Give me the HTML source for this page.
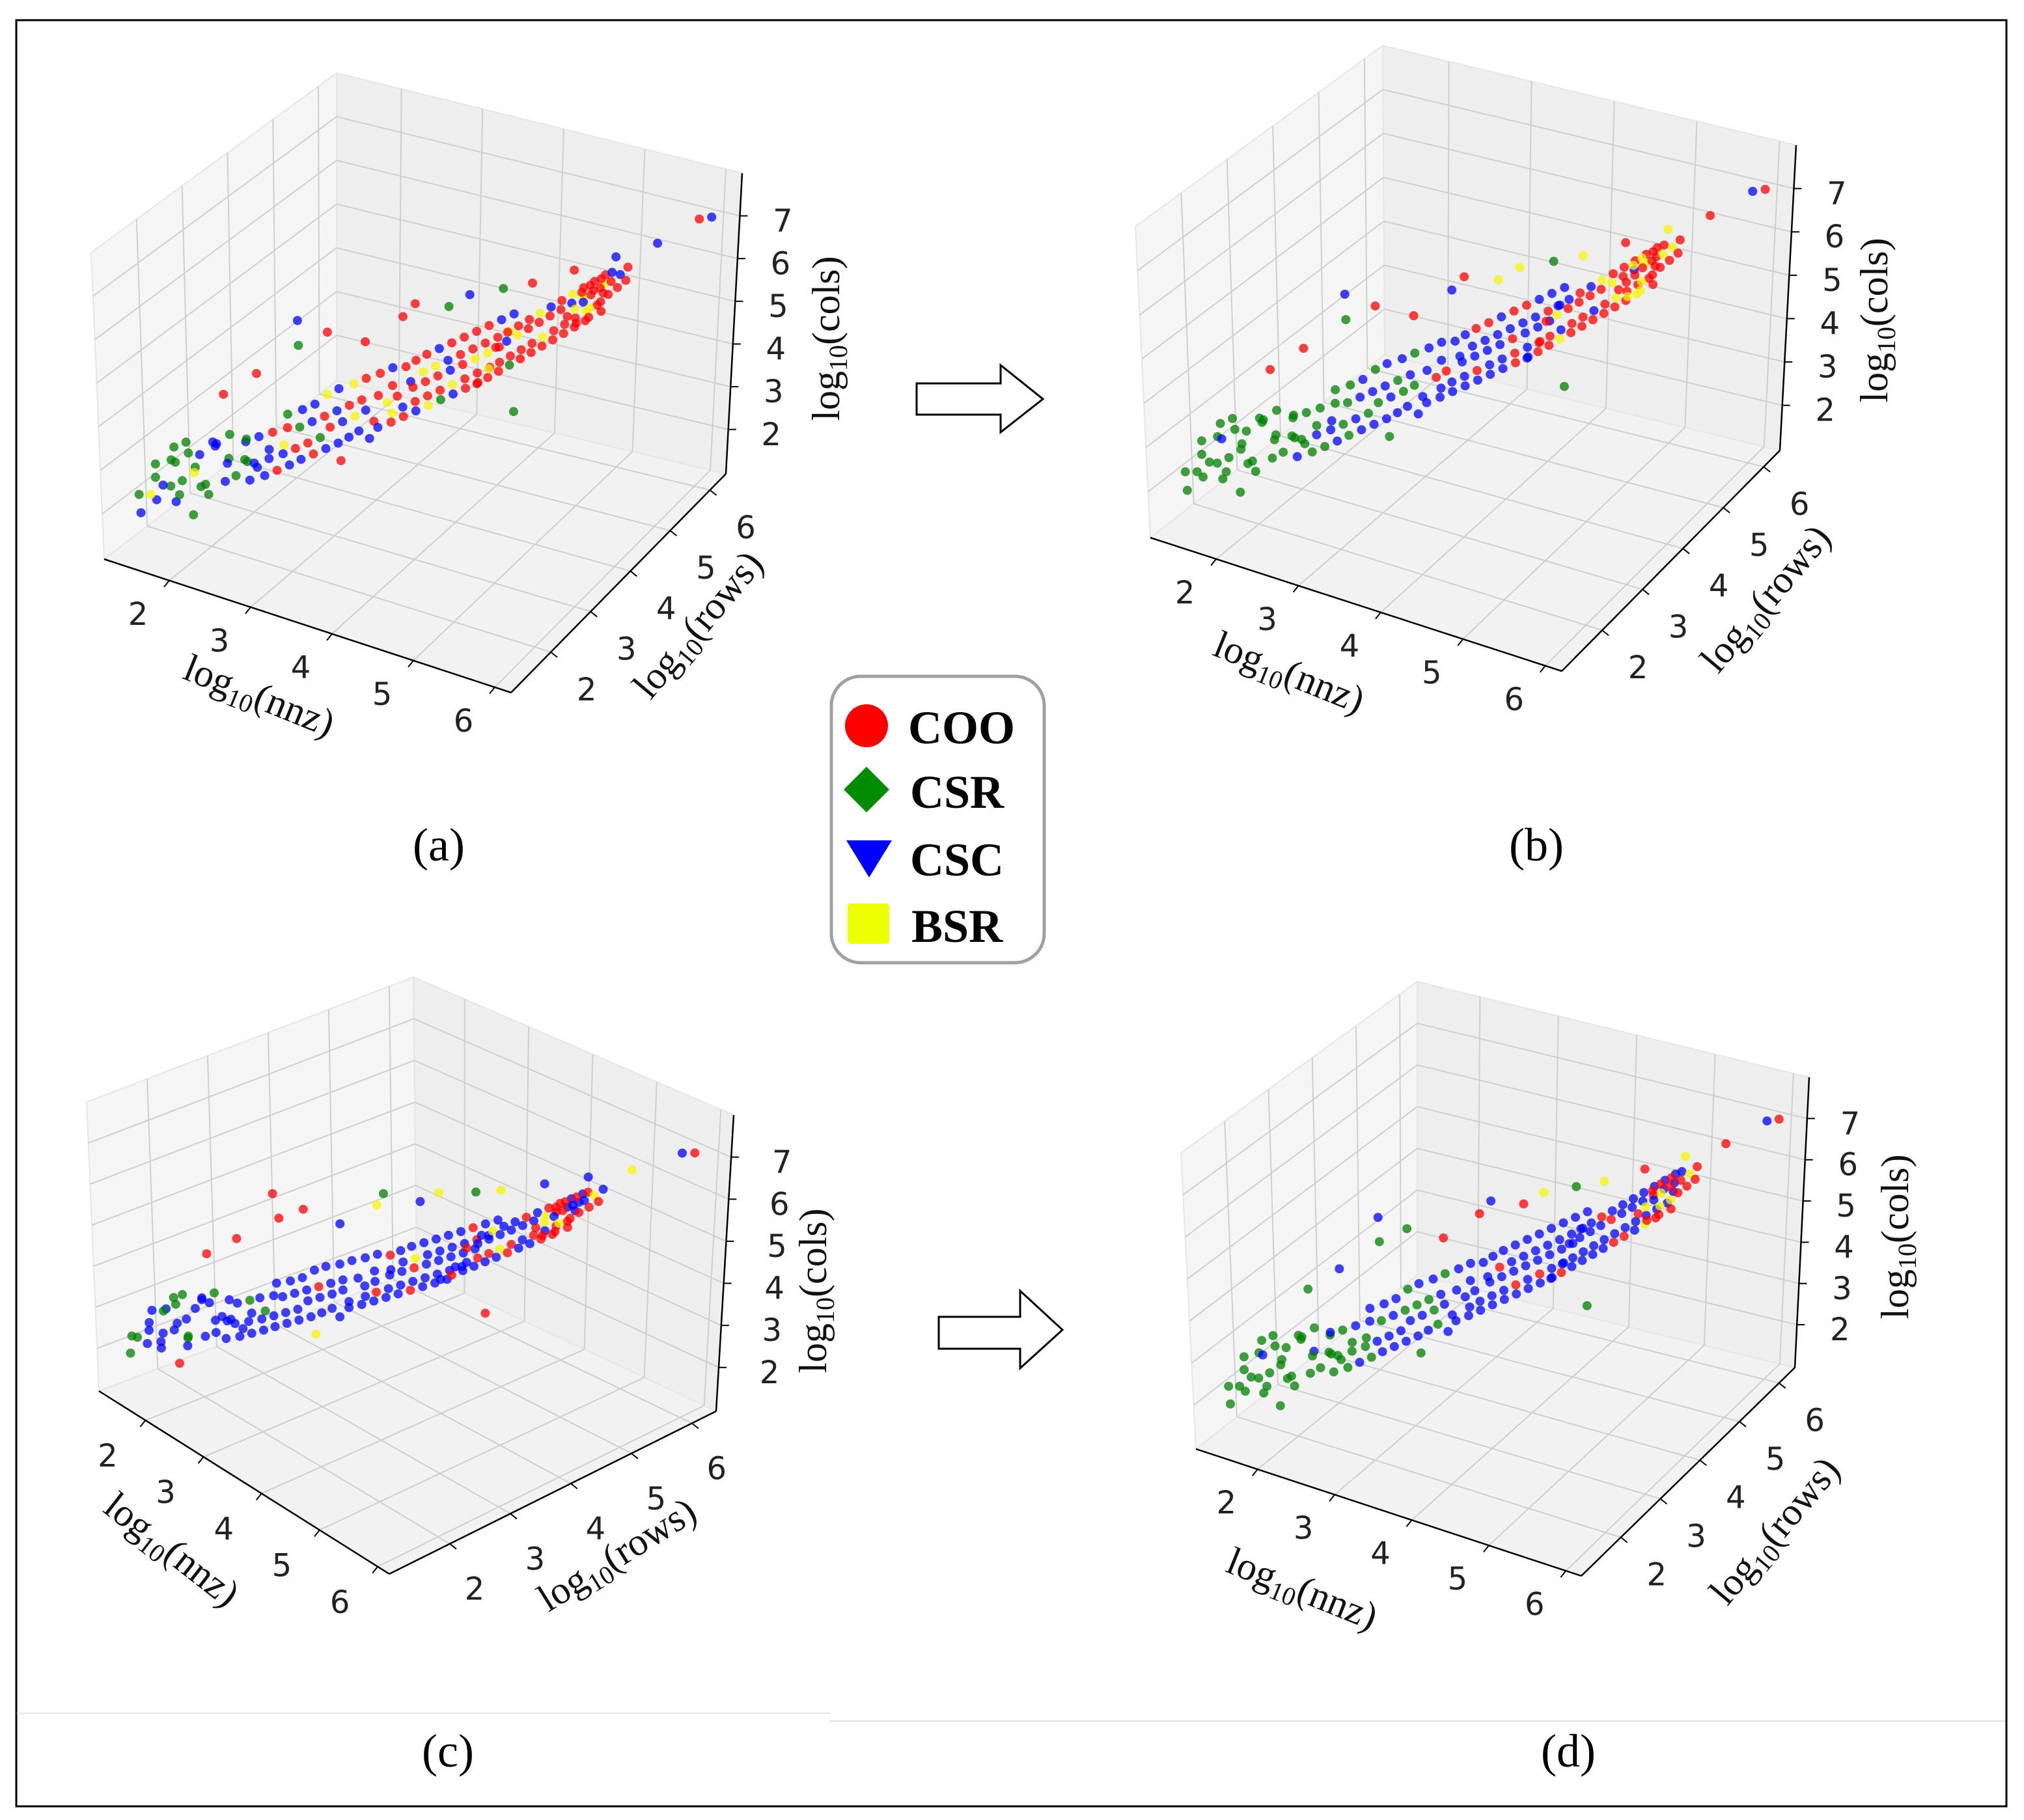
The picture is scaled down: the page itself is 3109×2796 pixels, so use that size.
<!DOCTYPE html>
<html><head><meta charset="utf-8"><style>
html,body{margin:0;padding:0;background:#fff;}
svg{display:block;}
</style></head><body>
<svg id="fig" width="3109" height="2796" viewBox="0 0 3109 2796" xmlns="http://www.w3.org/2000/svg">
<rect x="0" y="0" width="3109" height="2796" fill="#fff"/>
<rect x="25" y="31" width="3057" height="2744" fill="none" stroke="#000" stroke-width="3"/>
<line x1="26" y1="2632" x2="1275" y2="2632" stroke="#e4e4e4" stroke-width="2"/>
<line x1="1275" y1="2644" x2="3080" y2="2644" stroke="#e4e4e4" stroke-width="2"/>
<g id="panels"></g>
<g>
<polygon points="1408,589 1537,589 1537,561 1602,613 1537,664 1537,637 1408,637" fill="#fff" stroke="#000" stroke-width="3"/>
</g>
<g>
<polygon points="1442,2023 1567,2023 1567,1983 1632,2043 1567,2102 1567,2072 1442,2072" fill="#fff" stroke="#000" stroke-width="3"/>
</g>
<g>
<rect x="1277" y="1039" width="327" height="440" rx="45" ry="45" fill="#fff" stroke="#a0a0a0" stroke-width="5"/>
<circle cx="1331" cy="1115" r="33" fill="#ff0000"/>
<polygon points="1331,1178 1366,1213 1331,1248 1296,1213" fill="#008c00"/>
<polygon points="1300,1291 1370,1291 1335,1348" fill="#0000ff"/>
<rect x="1302" y="1388" width="64" height="62" rx="5" fill="#eeff00"/>
<g font-family="'Liberation Serif', serif" font-weight="bold" font-size="72" fill="#000">
<text x="1395" y="1142">COO</text>
<text x="1398" y="1241">CSR</text>
<text x="1398" y="1345">CSC</text>
<text x="1400" y="1447">BSR</text>
</g>
</g>
<g font-family="'Liberation Serif', serif" font-size="72" fill="#000" text-anchor="middle">
<text x="674" y="1322">(a)</text>
<text x="2360" y="1322">(b)</text>
<text x="688" y="2714">(c)</text>
<text x="2409" y="2714">(d)</text>
</g>
</svg>
<script>
// ---- data (log10 values of matrices) ----
const nnzVals=[1.5,1.55,1.57,1.6,1.62,1.66,1.69,1.7,1.73,1.77,1.8,1.82,1.85,1.88,1.9,1.93,1.96,2.0,2.02,2.05,2.08,2.1,2.13,2.16,2.2,2.22,2.25,2.29,2.31,2.35,2.38,2.4,2.43,2.46,2.48,2.52,
2.55,2.57,2.6,2.63,2.65,2.68,2.7,2.73,2.76,2.78,2.8,2.83,2.85,2.88,2.9,2.93,2.95,2.98,3.0,3.02,3.05,3.07,3.1,3.12,3.15,3.17,3.2,3.22,3.25,3.27,3.3,3.32,3.35,3.37,3.4,3.42,3.45,3.47,3.5,3.52,
3.55,3.57,3.6,3.61,3.63,3.65,3.68,3.7,3.72,3.74,3.76,3.78,3.8,3.82,3.84,3.86,3.88,3.9,3.92,3.94,3.96,3.98,4.0,4.02,4.04,4.06,4.08,4.1,4.12,4.14,4.16,4.18,4.2,4.22,4.24,4.26,4.28,4.3,4.32,4.34,4.36,4.38,4.4,4.42,4.44,4.46,4.48,4.5,4.51,4.53,
4.55,4.57,4.59,4.61,4.63,4.65,4.67,4.69,4.71,4.73,4.75,4.77,4.79,4.81,4.83,4.85,4.87,4.89,4.91,4.93,4.95,4.97,4.99,5.01,5.03,5.05,5.07,5.09,5.11,5.13,5.15,5.17,5.19,5.21,5.23,5.25,5.27,5.29,5.31,5.33,5.35,5.37,5.39,5.41,
5.18,5.2,5.22,5.25,5.27,5.29,5.31,5.33,5.35,5.37,5.39,5.41,5.43,5.45,5.47,5.49,5.51,5.53,5.55,5.58,
2.3,2.6,2.9,3.2,3.0,3.5,3.8,4.0,4.2,4.4,4.6,4.9,5.2,5.5,5.8,6.0,6.1,3.3,4.7,2.0];
const rowVals=[1.3,1.6,1.2,1.5,1.9,1.4,1.7,1.2,1.6,1.9,1.3,1.7,1.5,2.0,1.4,1.8,1.6,1.3,2.1,1.7,1.5,1.9,2.2,1.6,1.8,2.0,1.5,2.3,1.9,1.7,2.1,2.4,1.8,2.0,2.2,1.9,
2.0,2.4,1.8,2.2,2.6,2.1,2.5,1.9,2.3,2.7,2.2,2.0,2.5,2.8,2.3,2.1,2.6,2.9,2.4,2.2,2.7,3.0,2.5,2.3,2.8,2.6,3.1,2.4,2.9,2.7,3.2,2.5,3.0,2.8,2.6,3.3,2.9,2.7,3.1,3.4,
2.9,3.3,2.7,3.1,3.5,2.8,3.2,3.6,3.0,3.4,2.9,3.7,3.1,3.3,3.5,3.0,3.8,3.2,3.4,3.6,3.1,3.9,3.3,3.5,3.7,3.2,4.0,3.4,3.6,3.8,3.3,4.1,3.5,3.7,3.9,3.4,4.2,3.6,3.8,4.0,3.5,4.3,3.7,3.9,4.1,3.6,4.4,3.8,4.0,4.2,
3.4,3.8,3.6,4.0,3.5,3.9,3.7,4.1,3.6,4.0,3.8,4.2,3.7,4.1,3.9,4.3,3.8,4.2,4.0,4.4,3.9,4.3,4.1,4.5,4.0,4.4,4.2,4.6,4.1,4.5,4.3,4.7,4.2,4.6,4.4,4.8,4.3,4.7,4.5,4.9,4.4,4.8,4.6,4.7,
4.3,4.6,4.4,4.7,4.5,4.3,4.6,4.8,4.5,4.7,4.4,4.9,4.6,4.8,4.7,4.5,4.9,4.8,5.0,4.9,
1.8,2.0,2.4,2.5,2.2,2.8,3.1,3.0,3.4,3.5,3.9,4.0,4.4,4.8,5.2,5.8,5.9,2.6,4.0,1.6];
const colVals=[2.4,2.9,2.1,2.7,3.1,2.3,3.0,2.6,2.5,3.3,2.8,2.6,3.2,3.0,2.4,2.9,3.4,2.7,3.2,2.6,3.1,3.5,2.9,2.8,3.6,3.0,2.7,3.3,3.8,2.9,3.1,3.4,3.0,3.7,2.9,3.3,
3.2,3.6,3.0,3.4,3.9,3.3,3.7,3.1,3.5,4.0,3.4,3.2,3.8,4.1,3.5,3.3,3.9,4.3,3.6,3.4,4.0,4.4,3.7,3.5,4.1,3.9,4.5,3.6,4.2,4.0,4.6,3.7,4.3,4.1,3.8,4.7,4.2,3.9,4.4,4.8,
4.0,4.5,3.8,4.3,4.8,4.0,4.4,4.9,4.2,4.6,4.1,5.0,4.3,4.6,4.8,4.2,5.1,4.4,4.7,4.9,4.3,5.2,4.5,4.8,5.0,4.4,5.3,4.6,4.9,5.1,4.5,5.4,4.7,5.0,5.2,4.6,5.5,4.8,5.1,5.3,4.7,5.6,4.9,5.2,5.4,4.8,5.7,5.0,5.3,5.5,
5.0,5.5,5.2,5.7,5.1,5.6,5.3,5.8,5.2,5.7,5.4,5.9,5.3,5.8,5.5,6.0,5.4,5.9,5.6,6.1,5.5,6.0,5.7,6.2,5.6,6.1,5.8,6.3,5.7,6.2,5.9,6.4,5.8,6.3,6.0,6.5,5.9,6.4,6.1,6.6,6.0,6.5,6.2,6.4,
6.1,6.4,6.2,6.5,6.3,6.0,6.4,6.6,6.2,6.5,6.1,6.7,6.3,6.6,6.4,6.2,6.7,6.5,6.8,6.6,
4.8,5.3,5.8,6.2,6.6,5.9,6.4,6.9,6.6,6.9,6.8,7.0,7.1,7.2,7.3,7.4,7.4,3.2,3.9,2.0];
// format labels per panel: R=COO, G=CSR, B=CSC, Y=BSR
const labelsA="GGBGGBGYGGBGGBBGGGBGYBGGBBGBGBGBGGBG"+"BRBBGBRBYBBRGBRBBYRBRBGRBRYBRBRBRYBRBBRB"+"RRBYRBRRYBRRBRYRBRRYBRRRBYRRBRGRYRRBRRYRRBRYRRBRRY"+"RRYRRBRRRYRRGRRYRRRBRRYRRRRYRBRRRYRRRRYRRYRR"+"RRYRBRRRYRRBRRRRBRRR"+"RRGRBRRRGBGRRBBRBRGG";
const labelsB="GGGGGGGGGGGGBGGGGGGGGGGGGGGGGGGGGGGG"+"GGBGGBGGBGBGGBGBBGBGBBGBBGBBGBGBBGBBGBBB"+"BBBRBBRBBBBRBBBBRBBBBBRBBBRBBBBRBRBBBRBBRBBBRBBRBB"+"BRRBRYRBRRBRYRRBRRRYRRBRRYRRRRYRRBRRRYRRYRRR"+"RYRYRYRRYRYRRYRRYRRR"+"RRGRBRBRYYGYRYRBRGGG";
const labelsC="GBGBGBBGBGBBGBBBGBBGBBBGBBBBGBBGBBBB"+"BBBBBBBBGBBBBBBBBBBBBBBBRBBBBBBBBBBBBBBB"+"BBBBRBBBBBBBRBBBBBBYBBBRBBBBBBRBBBBBRBBBBBBBRBBBBB"+"BRBBRBBYBBRBBBRBBBYRBBRBRBBRBYRRBRBBRBRBRBRB"+"RRYRBRRRYBRRRBRRYRBR"+"RRRRRBYGBYGYBBYBRYRR";
const labelsD="GGGGGGGGGGGGBGGGGGGGGGBGGGGGGGGGGBGG"+"GBGGBGBGGBGBGBBGBGBBGBBBGBBBGBGBBGBBBGBB"+"BBBBBBBBBBBBBBRBBBBBBBBBBBBRBBBBBBBBBRBBBBBBBBBBBB"+"BBBBRBBBBBBRBBBBBRBBBBBBRBBBRBBBBRBBYBBBRBBB"+"RRYRBRYRYRRBYRRRYRRR"+"GBGGBRRBRYGYRYRBRGGG";
const xTicks=[2,3,4,5,6];
const yTicks=[2,3,4,5,6];
const zTicks=[2,3,4,5,6,7];
const xDomain=[1.2,6.2], yDomain=[1.0,6.4], zDomain=[0.96,8.0];

const colorMap={R:'#ff0000',G:'#008000',B:'#0000ff',Y:'#f5f500'};
const NS='http://www.w3.org/2000/svg';
const panels=[
 {id:'a',labels:labelsA,L:[160,859],F:[785,1064],R:[1115,728],B:[517,585],Lt:[140,388],Rt:[1140,266],Bt:[517,112],
  xo:[-48,52],yo:[55,58],zo:[66,16],
  xl:[391,1087,22],yl:[1087,972,-50],zl:[1289,520,-90]},
 {id:'b',labels:labelsB,L:[1767,826],F:[2399,1031],R:[2734,692],B:[2127,545],Lt:[1744,348],Rt:[2759,223],Bt:[2124,70],
  xo:[-48,52],yo:[55,58],zo:[66,16],
  xl:[1973,1051,22],yl:[2727,932,-50],zl:[2899,492,-90]},
 {id:'c',labels:labelsC,L:[152,2137],F:[598,2418],R:[1100,2168],B:[640,1952],Lt:[133,1693],Rt:[1127,1713],Bt:[635,1501],
  xo:[-58,55],yo:[38,70],zo:[78,16],
  xl:[252,2396,38],yl:[958,2405,-32],zl:[1269,1983,-90]},
 {id:'d',labels:labelsD,L:[1837,2226],F:[2429,2421],R:[2757,2101],B:[2177,1959],Lt:[1814,1771],Rt:[2779,1655],Bt:[2177,1508],
  xo:[-48,52],yo:[55,58],zo:[66,16],
  xl:[1993,2459,22],yl:[2741,2364,-50],zl:[2931,1900,-90]}
];
function bil(P,Q,R,S,u,v){
 return [P[0]*(1-u)*(1-v)+Q[0]*u*(1-v)+R[0]*u*v+S[0]*(1-u)*v,
         P[1]*(1-u)*(1-v)+Q[1]*u*(1-v)+R[1]*u*v+S[1]*(1-u)*v];
}
function xs(x){return (x-xDomain[0])/(xDomain[1]-xDomain[0]);}
function ys(y){return (y-yDomain[0])/(yDomain[1]-yDomain[0]);}
function zs(z){return (z-zDomain[0])/(zDomain[1]-zDomain[0]);}
function projN(p,u,v,w){
 const f=bil(p.L,p.F,p.R,p.B,u,v), t=bil(p.Lt,p.Ft,p.Rt,p.Bt,u,v);
 return [f[0]+(t[0]-f[0])*w, f[1]+(t[1]-f[1])*w];
}
function mk(tag,attrs,parent){const e=document.createElementNS(NS,tag);for(const k in attrs)e.setAttribute(k,attrs[k]);parent.appendChild(e);return e;}
function pts(a){return a.map(q=>q[0].toFixed(1)+','+q[1].toFixed(1)).join(' ');}
const root=document.getElementById('panels');
panels.forEach(p=>{
 p.Ft=[p.F[0]+(p.Lt[0]-p.L[0])+(p.Rt[0]-p.R[0])-(p.Bt[0]-p.B[0]), p.F[1]+(p.Lt[1]-p.L[1])+(p.Rt[1]-p.R[1])-(p.Bt[1]-p.B[1])];
 const g=mk('g',{},root);
 
 
 const floor=mk('polygon',{points:pts([p.L,p.F,p.R,p.B]),fill:'#f2f2f2',stroke:'#e6e6e6','stroke-width':2},g);
 
 
 const lw=mk('polygon',{points:pts([p.L,p.B,p.Bt,p.Lt]),fill:'#f5f5f5',stroke:'#e6e6e6','stroke-width':2},g);
 
 
 const bw=mk('polygon',{points:pts([p.B,p.R,p.Rt,p.Bt]),fill:'#eeeeee',stroke:'#e6e6e6','stroke-width':2},g);
 
 
 const gg=mk('g',{stroke:'#cfcfcf','stroke-width':2,fill:'none'},g);
 
 
 const seg=(a,b)=>mk('line',{x1:a[0],y1:a[1],x2:b[0],y2:b[1]},gg);
 xTicks.forEach(t=>{const u=xs(t);seg(projN(p,u,0,0),projN(p,u,1,0));seg(projN(p,u,1,0),projN(p,u,1,1));});
 yTicks.forEach(t=>{const v=ys(t);seg(projN(p,0,v,0),projN(p,1,v,0));seg(projN(p,0,v,0),projN(p,0,v,1));});
 zTicks.forEach(t=>{const w=zs(t);seg(projN(p,0,0,w),projN(p,0,1,w));seg(projN(p,0,1,w),projN(p,1,1,w));});
 const ag=mk('g',{stroke:'#000','stroke-width':2.5,fill:'none'},g);
 
 
 mk('line',{x1:p.L[0],y1:p.L[1],x2:p.F[0],y2:p.F[1]},ag);
 mk('line',{x1:p.F[0],y1:p.F[1],x2:p.R[0],y2:p.R[1]},ag);
 mk('line',{x1:p.R[0],y1:p.R[1],x2:p.Rt[0],y2:p.Rt[1]},ag);
 const sg=mk('g',{},g);
 
 
 for(let i=0;i<nnzVals.length;i++){
  const c=p.labels[i]||'B';
  const q=projN(p,xs(nnzVals[i]),ys(rowVals[i]),zs(colVals[i]));
  const dot=mk('circle',{cx:q[0].toFixed(1),cy:q[1].toFixed(1),r:7,fill:colorMap[c],'fill-opacity':0.75},sg);
  
  
 }
 const tg=mk('g',{'font-family':"'DejaVu Sans', 'Liberation Sans', sans-serif",'font-size':48,fill:'#222','text-anchor':'middle'},g);
 
 
 xTicks.forEach(t=>{const q=projN(p,xs(t),0,0);
  mk('line',{x1:q[0],y1:q[1],x2:q[0]-8,y2:q[1]+10,stroke:'#000','stroke-width':2},g);
  const tx=mk('text',{x:q[0]+p.xo[0],y:q[1]+p.xo[1]+16},tg);tx.textContent=t;
  
  });
 yTicks.forEach(t=>{const q=projN(p,1,ys(t),0);
  mk('line',{x1:q[0],y1:q[1],x2:q[0]+10,y2:q[1]+8,stroke:'#000','stroke-width':2},g);
  const tx=mk('text',{x:q[0]+p.yo[0],y:q[1]+p.yo[1]+16},tg);tx.textContent=t;
  
  });
 zTicks.forEach(t=>{const q=projN(p,1,1,zs(t));
  mk('line',{x1:q[0],y1:q[1],x2:q[0]+12,y2:q[1],stroke:'#000','stroke-width':2},g);
  const tx=mk('text',{x:q[0]+p.zo[0],y:q[1]+p.zo[1]+8},tg);tx.textContent=t;
  
  });
 [['xl','nnz','x-axis-title'],['yl','rows','y-axis-title'],['zl','cols','z-axis-title']].forEach(a=>{
  const s=p[a[0]];
  const t=mk('text',{x:0,y:0,'font-family':"'Liberation Serif', serif",'font-size':60,fill:'#111','text-anchor':'middle',transform:'translate('+s[0]+','+s[1]+') rotate('+s[2]+')'},g);
  
  
  const t1=mk('tspan',{},t);t1.textContent='log';
  const t2=mk('tspan',{dy:12,'font-size':40},t);t2.textContent='10';
  const t3=mk('tspan',{dy:-12},t);t3.textContent='('+a[1]+')';
 });
});
</script>
</body></html>
